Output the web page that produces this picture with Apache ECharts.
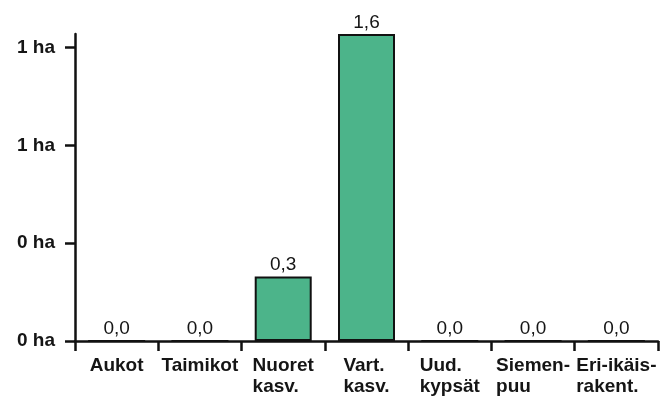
<!DOCTYPE html>
<html>
<head>
<meta charset="utf-8">
<script src="https://cdn.jsdelivr.net/npm/echarts@6/dist/echarts.min.js"></script>
<style>
  html, body { margin: 0; padding: 0; background: #fff; }
  #chart { width: 672px; height: 403px; }
</style>
</head>
<body>
<div id="chart"></div>
<script>
// categories and values (ha)
const categories = ['Aukot', 'Taimikot', 'Nuoret\nkasv.', 'Vart.\nkasv.', 'Uud.\nkypsät', 'Siemen-\npuu', 'Eri-ikäis-\nrakent.']
const areas = [0, 0, 0.33, 1.57, 0, 0, 0]
const yTicks = [0, 0.5, 1, 1.5]

const font = '"Liberation Sans", Arial, sans-serif'
const chart = echarts.init(document.getElementById('chart'))

chart.setOption({
  animation: false,
  grid: { left: 75, right: 14, top: 34, bottom: 62 },
  xAxis: {
    type: 'category',
    data: categories,
    boundaryGap: true,
    axisLine: { lineStyle: { color: '#111', width: 2.5 } },
    axisTick: { show: true, length: 10, lineStyle: { color: '#111', width: 2.5 } },
    axisLabel: {
      interval: 0,
      margin: 14,
      formatter: v => v.split('\n').map(s => '{l|' + s + '}').join('\n'),
      rich: {
        l: { align: 'left', fontFamily: font, fontSize: 19, fontWeight: 'bold', lineHeight: 21, color: '#151515' }
      }
    },
    splitLine: { show: false }
  },
  yAxis: {
    type: 'value',
    min: 0,
    max: 1.57,
    axisLine: { show: true, lineStyle: { color: '#111', width: 2.5 } },
    axisTick: { show: true, length: 10, customValues: yTicks, lineStyle: { color: '#111', width: 2.5 } },
    axisLabel: {
      customValues: yTicks,
      margin: 20,
      fontFamily: font,
      fontSize: 19,
      fontWeight: 'bold',
      color: '#151515',
      formatter: v => Math.floor(v) + ' ha'
    },
    splitLine: { show: false }
  },
  series: [{
    type: 'bar',
    data: areas,
    barWidth: 57,
    itemStyle: { color: '#4cb48a', borderColor: '#111', borderWidth: 2 },
    label: {
      show: true,
      position: 'top',
      distance: 2,
      fontFamily: font,
      fontSize: 19,
      color: '#151515',
      formatter: p => p.value.toFixed(1).replace('.', ',')
    }
  }]
})
</script>
</body>
</html>
